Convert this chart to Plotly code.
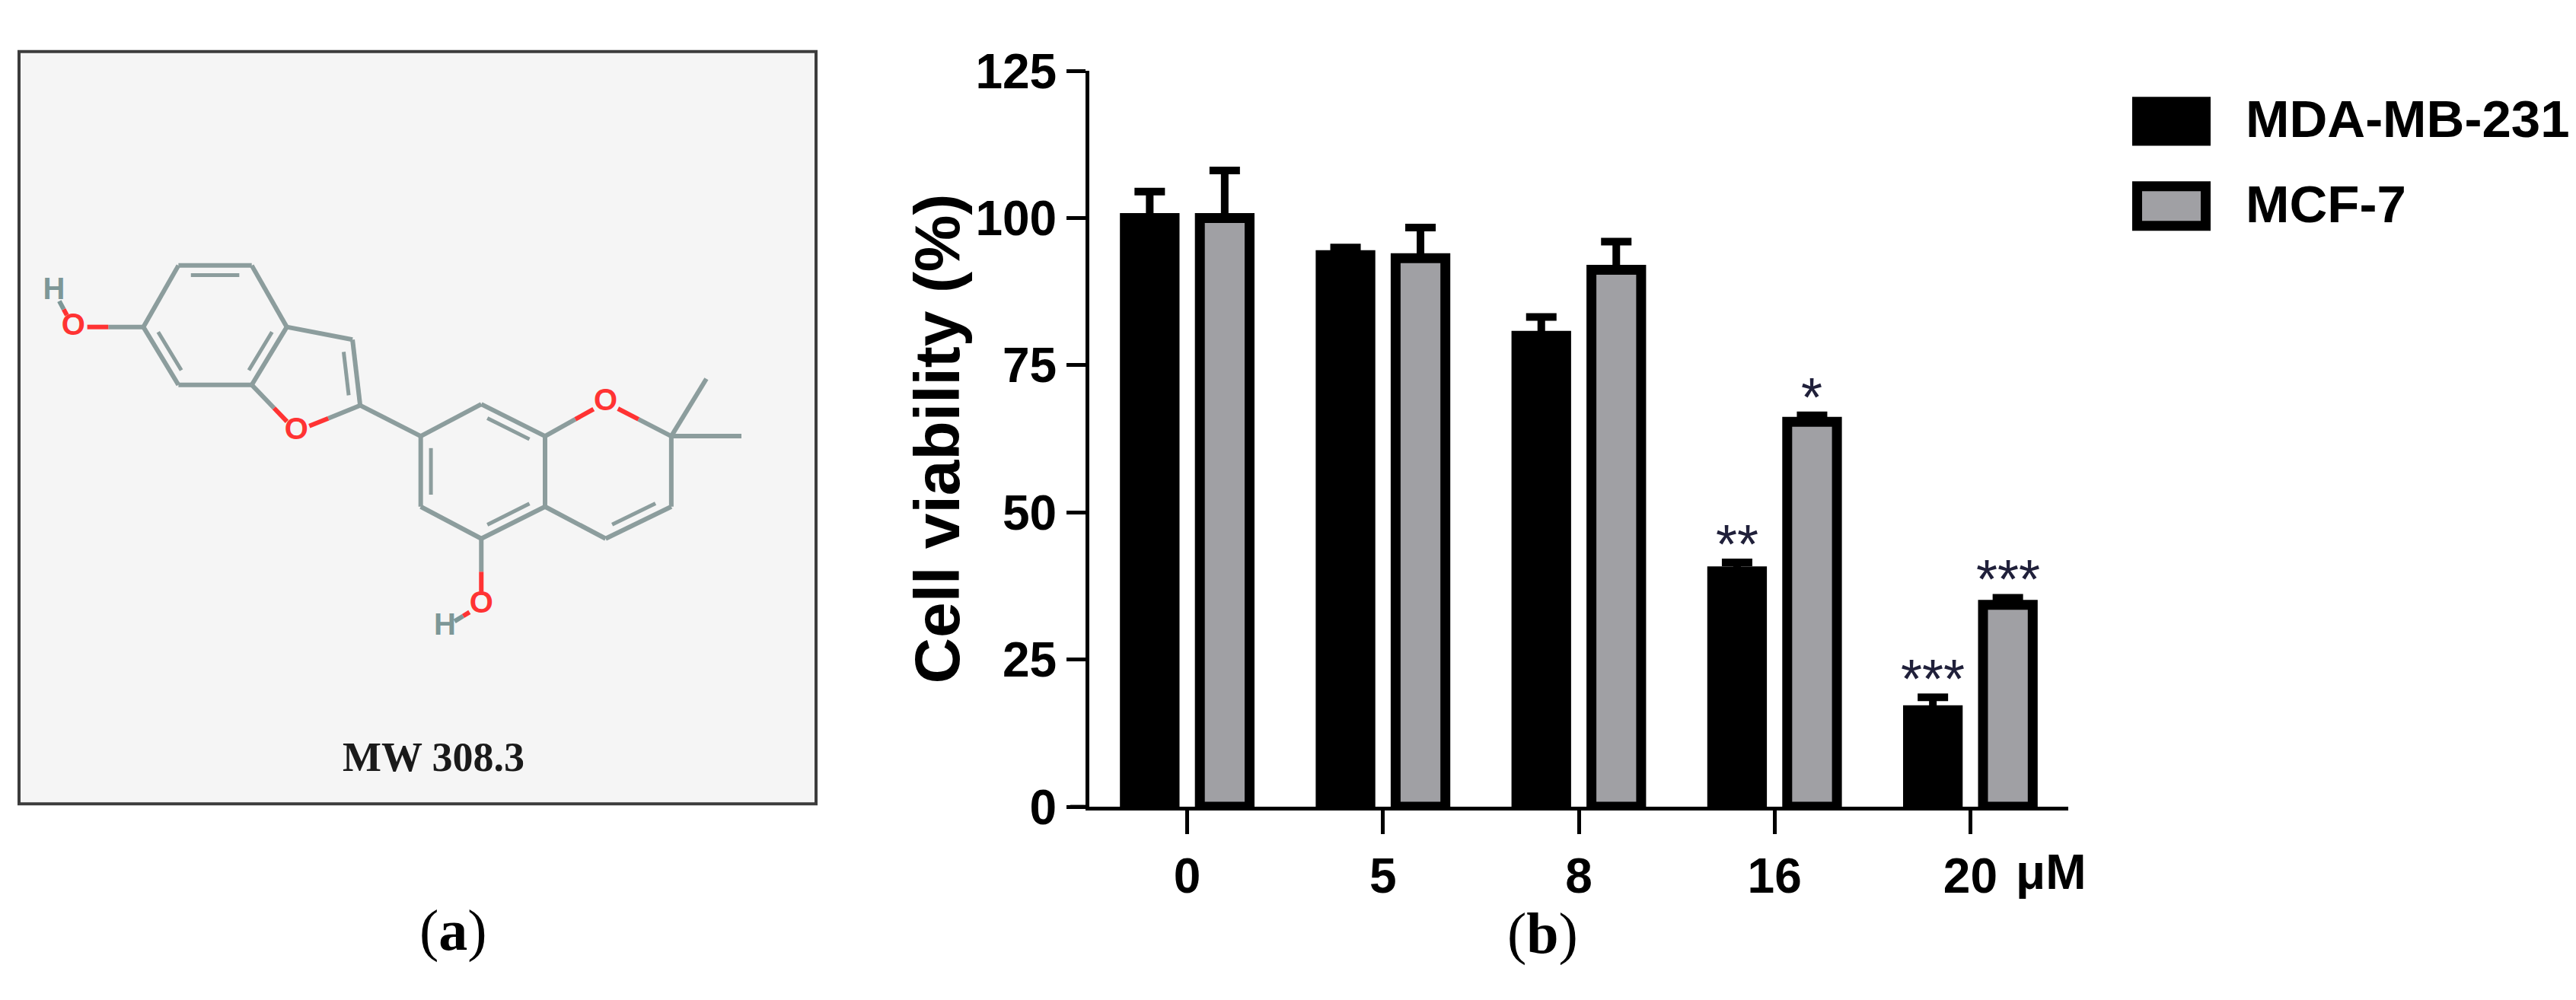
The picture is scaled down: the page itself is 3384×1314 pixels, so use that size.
import math
import plotly.graph_objects as go

W, H = 3384, 1314

# ---------------- data (panel b) ----------------
doses = ["0", "5", "8", "16", "20"]
dose_unit = "μM"
series_names = ["MDA-MB-231", "MCF-7"]
mda_mean = [100, 93.7, 80, 40, 16.4]
mda_err = [4.5, 1.3, 3.2, 1.5, 2.2]
mcf_mean = [100, 93.2, 91.2, 65.4, 34.3]
mcf_err = [8.1, 5.2, 4.8, 1.1, 1.2]
mda_sig = ["", "", "", "**", "***"]
mcf_sig = ["", "", "", "*", "***"]
y_ticks = [0, 25, 50, 75, 100, 125]
y_title = "Cell viability (%)"
mw_text = "MW 308.3"

# ---------------- data (panel a: molecule drawing units) ----------------
atom_el = ["C", "C", "C", "C", "C", "C", "O", "H", "C", "C", "O", "C", "C", "C",
           "C", "C", "C", "O", "C", "C", "C", "C", "C", "O", "H"]
atom_x = [215, 270, 385, 440, 385, 270, 105, 75, 543, 555, 455, 650, 745, 845,
          845, 745, 650, 940, 1043, 1043, 940, 1098, 1153, 745, 688]
atom_y = [487, 385, 385, 487, 583, 583, 487, 428, 508, 617, 660, 668, 615, 668,
          785, 838, 785, 612, 668, 785, 838, 573, 668, 948, 985]
bonds = [(0, 1), (1, 2), (2, 3), (3, 4), (4, 5), (5, 0), (0, 6), (6, 7),
         (3, 8), (8, 9), (9, 10), (10, 4), (9, 11),
         (11, 12), (12, 13), (13, 14), (14, 15), (15, 16), (16, 11),
         (13, 17), (17, 18), (18, 19), (19, 20), (20, 14), (18, 21), (18, 22),
         (15, 23), (23, 24)]
rings = [[0, 1, 2, 3, 4, 5], [3, 8, 9, 10, 4], [11, 12, 13, 14, 15, 16],
         [13, 17, 18, 19, 20, 14]]
double_bonds = [(1, 2, 0), (0, 5, 0), (3, 4, 0), (8, 9, 1), (11, 16, 2),
                (12, 13, 2), (14, 15, 2), (19, 20, 3)]

# ---------------- styles ----------------
SANS = "Liberation Sans, Arial, sans-serif"
SERIF = "Liberation Serif, Times New Roman, serif"
GRAY = "#a0a0a4"
STAR_COLOR = "#20203a"
EL_COLOR = {"C": "#8c9d9d", "O": "#ff3333", "H": "#7d9797"}
TRIM = {"C": 0, "O": 22, "H": 18}
TICK_SIZE = 64


def px(x):
    return x / W


def py(y):
    return 1 - y / H


fig = go.Figure()

# ---------------- panel b bars ----------------
err_style = dict(type="data", symmetric=False, arrayminus=[0] * len(doses),
                 color="black", thickness=10, width=20)
fig.add_trace(go.Bar(
    x=doses, y=mda_mean, name=series_names[0], showlegend=False,
    marker=dict(color="black", line=dict(color="black", width=13)),
    error_y=dict(array=mda_err, **err_style)))
fig.add_trace(go.Bar(
    x=doses, y=mcf_mean, name=series_names[1], showlegend=False,
    marker=dict(color=GRAY, line=dict(color="black", width=13)),
    error_y=dict(array=mcf_err, **err_style)))

x_dom = [px(1423), px(2709)]
y_dom = [py(1075), py(52)]
bargap, bargroupgap = 0.234, 0.337
cat_px = (x_dom[1] - x_dom[0]) * W / len(doses)
half_slot = cat_px * (1 - bargap) / 4

annotations = []
for i in range(len(doses)):
    for sig, mean, err, sgn in ((mda_sig, mda_mean, mda_err, -1),
                                (mcf_sig, mcf_mean, mcf_err, 1)):
        if sig[i]:
            annotations.append(dict(
                x=i, y=mean[i] + err[i], xref="x", yref="y", text=sig[i],
                showarrow=False, xshift=sgn * half_slot, yshift=24,
                yanchor="middle", xanchor="center",
                font=dict(family=SANS, size=72, color=STAR_COLOR)))

# unit after the last tick label
annotations.append(dict(x=len(doses) - 1, y=0, xref="x", yref="y", text=dose_unit,
                        showarrow=False, xanchor="left", yanchor="middle",
                        xshift=58, yshift=-86,
                        font=dict(family=SANS, size=TICK_SIZE, color="black", weight="bold")))

# y-axis title
annotations.append(dict(x=px(1223), y=(y_dom[0] + y_dom[1]) / 2, xref="paper",
                        yref="paper", text=y_title, textangle=-90, showarrow=False,
                        xanchor="center", yanchor="middle",
                        font=dict(family=SANS, size=84, color="black", weight="bold")))

# custom legend
shapes = []
legend_rows = [(88, 156, "black"), (206, 274, GRAY)]
for (y0, y1, col), name in zip(legend_rows, series_names):
    if col == "black":
        shapes.append(dict(type="rect", xref="paper", yref="paper",
                           x0=px(2793), x1=px(2896), y0=py(y1), y1=py(y0),
                           fillcolor="black", line=dict(width=0)))
    else:
        shapes.append(dict(type="rect", xref="paper", yref="paper",
                           x0=px(2799.5), x1=px(2889.5), y0=py(y1 - 6.5), y1=py(y0 + 6.5),
                           fillcolor=col, line=dict(color="black", width=13)))
    annotations.append(dict(x=px(2940), y=py((y0 + y1) / 2 - 3), xref="paper", yref="paper",
                            text=name, showarrow=False, xanchor="left", yanchor="middle",
                            font=dict(family=SANS, size=69, color="black", weight="bold")))

# x-axis extension to the left (GraphPad style)
shapes.append(dict(type="line", xref="paper", yref="y", x0=px(1398), x1=x_dom[0],
                   y0=0, y1=0, line=dict(color="black", width=5)))

# panel labels
annotations.append(dict(x=px(587), y=py(1247), xref="paper", yref="paper",
                        text="(<b>a</b>)", showarrow=False,
                        xanchor="center", yanchor="middle",
                        font=dict(family=SERIF, size=76, color="black")))
annotations.append(dict(x=px(2019), y=py(1251), xref="paper", yref="paper",
                        text="(<b>b</b>)", showarrow=False,
                        xanchor="center", yanchor="middle",
                        font=dict(family=SERIF, size=76, color="black")))

# ---------------- panel a: molecule ----------------
box_x = [px(17), px(1064)]
box_y = [py(1071), py(25)]
shapes.append(dict(type="rect", xref="x2 domain", yref="y2 domain", x0=0, x1=1,
                   y0=0, y1=1, fillcolor="#f5f5f5", line=dict(color="#3c3c3c", width=4),
                   layer="below"))

seg = {c: ([], []) for c in EL_COLOR}


def add_seg(color_key, xa, ya, xb, yb):
    sx, sy = seg[color_key]
    sx += [xa, xb, None]
    sy += [ya, yb, None]


for a, b in bonds:
    xa, ya, xb, yb = atom_x[a], atom_y[a], atom_x[b], atom_y[b]
    L = math.hypot(xb - xa, yb - ya)
    ux, uy = (xb - xa) / L, (yb - ya) / L
    ta, tb = TRIM[atom_el[a]], TRIM[atom_el[b]]
    sa = (xa + ux * ta, ya + uy * ta)
    sb = (xb - ux * tb, yb - uy * tb)
    mid = ((xa + xb) / 2, (ya + yb) / 2)
    if atom_el[a] == atom_el[b]:
        add_seg(atom_el[a], sa[0], sa[1], sb[0], sb[1])
    else:
        add_seg(atom_el[a], sa[0], sa[1], mid[0], mid[1])
        add_seg(atom_el[b], mid[0], mid[1], sb[0], sb[1])

inner_x, inner_y = [], []
for a, b, r in double_bonds:
    cx = sum(atom_x[k] for k in rings[r]) / len(rings[r])
    cy = sum(atom_y[k] for k in rings[r]) / len(rings[r])
    xa, ya, xb, yb = atom_x[a], atom_y[a], atom_x[b], atom_y[b]
    L = math.hypot(xb - xa, yb - ya)
    nx, ny = -(yb - ya) / L, (xb - xa) / L
    mx, my = (xa + xb) / 2, (ya + yb) / 2
    if (cx - mx) * nx + (cy - my) * ny < 0:
        nx, ny = -nx, -ny
    off, sh = 16, 0.17
    inner_x += [xa + (xb - xa) * sh + nx * off, xb - (xb - xa) * sh + nx * off, None]
    inner_y += [ya + (yb - ya) * sh + ny * off, yb - (yb - ya) * sh + ny * off, None]

for c, (sx, sy) in seg.items():
    if sx:
        fig.add_trace(go.Scatter(x=sx, y=sy, xaxis="x2", yaxis="y2", mode="lines",
                                 line=dict(color=EL_COLOR[c], width=6),
                                 showlegend=False, hoverinfo="skip"))
fig.add_trace(go.Scatter(x=inner_x, y=inner_y, xaxis="x2", yaxis="y2", mode="lines",
                         line=dict(color=EL_COLOR["C"], width=5),
                         showlegend=False, hoverinfo="skip"))

lab_idx = [i for i, e in enumerate(atom_el) if e != "C"]
fig.add_trace(go.Scatter(
    x=[atom_x[i] for i in lab_idx], y=[atom_y[i] for i in lab_idx],
    text=[atom_el[i] for i in lab_idx], mode="text", xaxis="x2", yaxis="y2",
    textfont=dict(family=SANS, size=40, weight="bold",
                  color=[EL_COLOR[atom_el[i]] for i in lab_idx]),
    showlegend=False, hoverinfo="skip"))

annotations.append(dict(x=670, y=1200, xref="x2", yref="y2", text=f"<b>{mw_text}</b>",
                        showarrow=False, xanchor="center", yanchor="middle",
                        font=dict(family=SERIF, size=54, color="#1a1a1a")))

fig.update_layout(
    width=W, height=H, margin=dict(l=0, r=0, t=0, b=0),
    paper_bgcolor="white", plot_bgcolor="rgba(0,0,0,0)",
    barmode="group", bargap=bargap, bargroupgap=bargroupgap,
    showlegend=False,
    xaxis=dict(domain=x_dom, type="category", range=[-0.5, len(doses) - 0.5],
               showline=True, linewidth=5, linecolor="black",
               ticks="outside", ticklen=31, tickwidth=5, tickcolor="black",
               tickfont=dict(family=SANS, size=TICK_SIZE, color="black", weight="bold"),
               showgrid=False, zeroline=False, fixedrange=True),
    yaxis=dict(domain=y_dom, range=[0, 125], tickvals=y_ticks,
               ticktext=[str(v) for v in y_ticks],
               showline=True, linewidth=5, linecolor="black",
               ticks="outside", ticklen=25, tickwidth=5, tickcolor="black",
               tickfont=dict(family=SANS, size=TICK_SIZE, color="black", weight="bold"),
               showgrid=False, zeroline=False, fixedrange=True),
    xaxis2=dict(domain=box_x, range=[20, 1270], visible=False, fixedrange=True),
    yaxis2=dict(domain=box_y, range=[1278, 30], visible=False, fixedrange=True),
    shapes=shapes, annotations=annotations,
)

fig.write_html("out.html")
